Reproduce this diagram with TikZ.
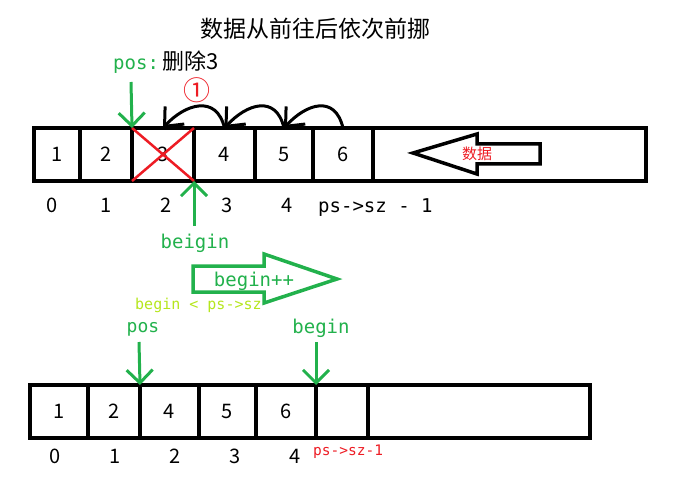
\documentclass[tikz,border=0pt]{standalone}
\usepackage{fontspec}
\setmainfont{Noto Sans CJK SC}
\newfontfamily\monof{DejaVu Sans Mono}
\usetikzlibrary{arrows.meta, positioning}
\definecolor{pgreen}{HTML}{22B14C}
\definecolor{pred}{HTML}{ED1C24}
\definecolor{plime}{HTML}{B5E61D}

\begin{document}
\begin{tikzpicture}[
			x=1pt, y=-1pt,
			cell/.style={
				rectangle,
				draw,
				line width=3.5pt,
				minimum height=53pt,
				inner sep=0pt,
				outer sep=0pt,
				font=\fontsize{20}{20}\selectfont
			},
			idx/.style={
				anchor=base,
				inner sep=0pt,
				font=\fontsize{20}{20}\selectfont
			},
			marker/.style={
				-{Straight Barb[length=13pt, width=26pt]},
				draw=pgreen,
				line width=3pt
			},
			moveleft/.style={
				-{Straight Barb[length=15pt, width=26pt]},
				line width=3pt
			},
			glabel/.style={
				text=pgreen,
				anchor=base,
				inner sep=0pt,
				font=\monof\fontsize{19}{19}\selectfont
			},
			cross/.style={
				draw=pred,
				line width=2.5pt
			},
			hollow/.style={
				line width=3.5pt
			}
			]
			\useasboundingbox (0,0) rectangle (682,481);
			
			% Title
			\node[font=\fontsize{23}{23}\selectfont] (title) at (315,29) {数据从前往后依次前挪};
			
			% First array (before deleting)
			\node[cell, minimum width=46pt] (c1) at (57,154.5) {1};
			\node[cell, minimum width=52pt, right=0pt of c1] (c2) {2};
			\node[cell, minimum width=62pt, right=0pt of c2] (c3) {3};
			\node[cell, minimum width=61pt, right=0pt of c3] (c4) {4};
			\node[cell, minimum width=58pt, right=0pt of c4] (c5) {5};
			\node[cell, minimum width=60pt, right=0pt of c5] (c6) {6};
			\node[cell, minimum width=273pt, right=0pt of c6] (crest) {};
			
			% Deleted element
			\draw[cross] (c3.north west) -- (c3.south east);
			\draw[cross] (c3.south west) -- (c3.north east);
			
			% Data direction arrow
			\draw[hollow] (413,153) -- (477,134) -- (477,144) -- (540,144) -- (540,164) -- (477,164) -- (477,174) -- cycle;
			\node[text=pred, font=\fontsize{15}{15}\selectfont] (data) at (477,154) {数据};
			
			% Indices (first array)
			\node[idx] (t0) at (52,212) {0};
			\node[idx] (t1) at (106,212) {1};
			\node[idx] (t2) at (166,212) {2};
			\node[idx] (t3) at (227,212) {3};
			\node[idx] (t4) at (287,212) {4};
			\node[idx, anchor=base west, font=\monof\fontsize{19}{19}\selectfont] (tlast) at (318,212) {ps->sz - 1};
			
			% pos marker
			\node[glabel, anchor=base west] (pos1) at (113,70) {pos:\hspace{4pt}{\normalfont\fontsize{22}{22}\selectfont\color{black}删除3}};
			\coordinate (pos1tail) at (131,82);
			\draw[marker] (pos1tail) -- (c3.north west);
			
			% Moving elements forward
			\node[text=pred, font=\fontsize{27}{27}\selectfont] (step1) at (197,90) {①};
			\draw[moveleft] (c6.north) .. controls +(-8,-34) and +(22,-24) .. (c5.north);
			\draw[moveleft] (c5.north) .. controls +(-8,-34) and +(22,-24) .. (c4.north);
			\draw[moveleft] (c4.north) .. controls +(-8,-34) and +(22,-24) .. (c3.north);
			
			% begin marker
			\coordinate (beg1tail) at (194,226);
			\draw[marker] (beg1tail) -- (c3.south east);
			\node[glabel] (beg1) at (195,248) {beigin};
			
			% begin++ arrow
			\draw[hollow, draw=pgreen] (193,266) -- (264,266) -- (264,254) -- (337,279) -- (264,303) -- (264,292) -- (193,292) -- cycle;
			\node[glabel] (incr) at (254,286) {begin++};
			\node[glabel, text=plime, anchor=base west, font=\monof\fontsize{15}{15}\selectfont] (cond) at (135,309) {begin < ps->sz};
			
			% Second array (after moving)
			\node[cell, minimum width=58pt] (d1) at (59,411.5) {1};
			\node[cell, minimum width=52pt, right=0pt of d1] (d2) {2};
			\node[cell, minimum width=59pt, right=0pt of d2] (d3) {4};
			\node[cell, minimum width=57pt, right=0pt of d3] (d4) {5};
			\node[cell, minimum width=60pt, right=0pt of d4] (d5) {6};
			\node[cell, minimum width=52pt, right=0pt of d5] (d6) {};
			\node[cell, minimum width=222pt, right=0pt of d6] (drest) {};
			
			% Markers (second array)
			\node[glabel, font=\monof\fontsize{18}{18}\selectfont] (pos2) at (143,332) {pos};
			\coordinate (pos2tail) at (139,342);
			\draw[marker] (pos2tail) -- (d3.north west);
			\node[glabel] (beg2) at (321,333) {begin};
			\coordinate (beg2tail) at (316,342);
			\draw[marker] (beg2tail) -- (d6.north west);
			
			% Indices (second array)
			\node[idx] (b0) at (55,463) {0};
			\node[idx] (b1) at (115,463) {1};
			\node[idx] (b2) at (175,463) {2};
			\node[idx] (b3) at (235,463) {3};
			\node[idx] (b4) at (295,463) {4};
			\node[idx, anchor=base west, text=pred, font=\monof\fontsize{14.5}{14.5}\selectfont] (blast) at (313,455) {ps->sz-1};
			
		\end{tikzpicture}
\end{document}
